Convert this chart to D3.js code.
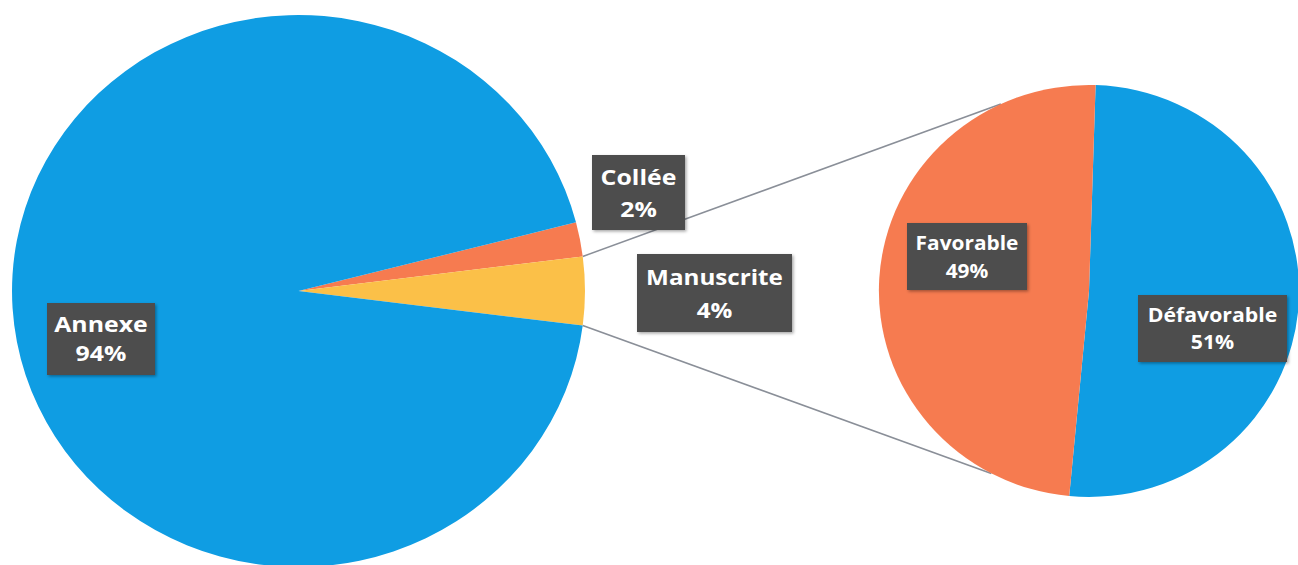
<!DOCTYPE html>
<html>
<head>
<meta charset="utf-8">
<script src="https://cdn.jsdelivr.net/npm/d3@7"></script>
<style>
  html, body { margin: 0; padding: 0; background: #ffffff; }
  svg { display: block; }
</style>
</head>
<body>
<svg id="chart" width="1298" height="565"></svg>
<script>
// ---- data ----
const mainCategories = ["Collée", "Manuscrite", "Annexe"];
const mainValues = [2, 4, 94];
const mainColors = ["#F67B50", "#FBC048", "#0F9DE3"];

const subCategories = ["Défavorable", "Favorable"];
const subValues = [51, 49];
const subColors = ["#0F9DE3", "#F67B50"];

// ---- layout ----
const W = 1298, H = 565;
const main = { cx: 298.5, cy: 291, r: 276, sx: 1.038 };
const sub = { cx: 1089, cy: 291, r: 206, sx: 1.02 };
const deg = Math.PI / 180;

const labelPos = {
  "Annexe": { x: 101, y: 339, w: 108, h: 72, fs: 22, tx: 1.13, l1: -15, l2: 14 },
  "Collée": { x: 638.5, y: 192.5, w: 93, h: 75, fs: 22, tx: 1.13, l1: -15.5, l2: 16.5 },
  "Manuscrite": { x: 714.5, y: 293, w: 155, h: 78, fs: 22, tx: 1.1, l1: -16, l2: 17 },
  "Favorable": { x: 967, y: 256.5, w: 120, h: 67, fs: 19.5, tx: 1.07, l1: -13.5, l2: 14.5 },
  "Défavorable": { x: 1212.5, y: 328.5, w: 149, h: 67, fs: 19.5, tx: 1.09, l1: -13.5, l2: 13.5 }
};

const svg = d3.select("#chart");
svg.append("rect").attr("width", W).attr("height", H).attr("fill", "#ffffff");

const defs = svg.append("defs");
const f = defs.append("filter").attr("id", "shadow").attr("x", "-20%").attr("y", "-20%").attr("width", "140%").attr("height", "140%");
f.append("feDropShadow").attr("dx", 1.5).attr("dy", 1.5).attr("stdDeviation", 1.5).attr("flood-color", "#000").attr("flood-opacity", 0.35);

// main pie
const mainTotal = d3.sum(mainValues);
const mainStart = Math.PI / 2 - (mainValues[0] + mainValues[1] / 2) / mainTotal * 2 * Math.PI;
const mainPie = d3.pie().sort(null).startAngle(mainStart).endAngle(mainStart + 2 * Math.PI);
const mainArcs = mainPie(mainValues);
const mainArc = d3.arc().innerRadius(0).outerRadius(main.r);

// sub pie
const subStart = 1.8 * deg;
const subPie = d3.pie().sort(null).startAngle(subStart).endAngle(subStart + 2 * Math.PI);
const subArcs = subPie(subValues);
const subArc = d3.arc().innerRadius(0).outerRadius(sub.r);

// connector lines (from the split slice "Manuscrite" to the secondary pie)
const split = mainArcs[1];
function pt(c, a) { return [c.cx + c.sx * c.r * Math.sin(a), c.cy - c.r * Math.cos(a)]; }
const connectors = [
  [pt(main, split.startAngle), pt(sub, -24.8 * deg)],
  [pt(main, split.endAngle), pt(sub, 207.7 * deg)]
];
svg.append("g").selectAll("line").data(connectors).join("line")
  .attr("x1", d => d[0][0]).attr("y1", d => d[0][1])
  .attr("x2", d => d[1][0]).attr("y2", d => d[1][1])
  .attr("stroke", "#8a8f98").attr("stroke-width", 1.6);

const gMain = svg.append("g").attr("transform", `translate(${main.cx},${main.cy}) scale(${main.sx},1)`);
gMain.selectAll("path").data(mainArcs).join("path")
  .attr("d", mainArc)
  .attr("fill", (d, i) => mainColors[i]);

const gSub = svg.append("g").attr("transform", `translate(${sub.cx},${sub.cy}) scale(${sub.sx},1)`);
gSub.selectAll("path").data(subArcs).join("path")
  .attr("d", subArc)
  .attr("fill", (d, i) => subColors[i]);

// labels
const labels = mainCategories.map((c, i) => ({ name: c, pct: Math.round(mainValues[i] / mainTotal * 100) + "%" }))
  .concat(subCategories.map((c, i) => ({ name: c, pct: subValues[i] + "%" })));

const gl = svg.append("g");
labels.forEach(l => {
  const p = labelPos[l.name];
  const g = gl.append("g").attr("transform", `translate(${p.x},${p.y})`);
  g.append("rect")
    .attr("x", -p.w / 2).attr("y", -p.h / 2).attr("width", p.w).attr("height", p.h)
    .attr("fill", "#4d4d4d").attr("filter", "url(#shadow)");
  const t = g.append("text")
    .attr("transform", `scale(${p.tx},1)`)
    .attr("text-anchor", "middle")
    .attr("fill", "#ffffff")
    .attr("font-family", "'Open Sans', 'Noto Sans', sans-serif")
    .attr("font-weight", 700)
    .attr("font-size", p.fs);
  t.append("tspan").attr("x", 0).attr("y", p.l1).attr("dy", "0.35em").text(l.name);
  t.append("tspan").attr("x", 0).attr("y", p.l2).attr("dy", "0.35em").text(l.pct);
});
</script>
</body>
</html>
